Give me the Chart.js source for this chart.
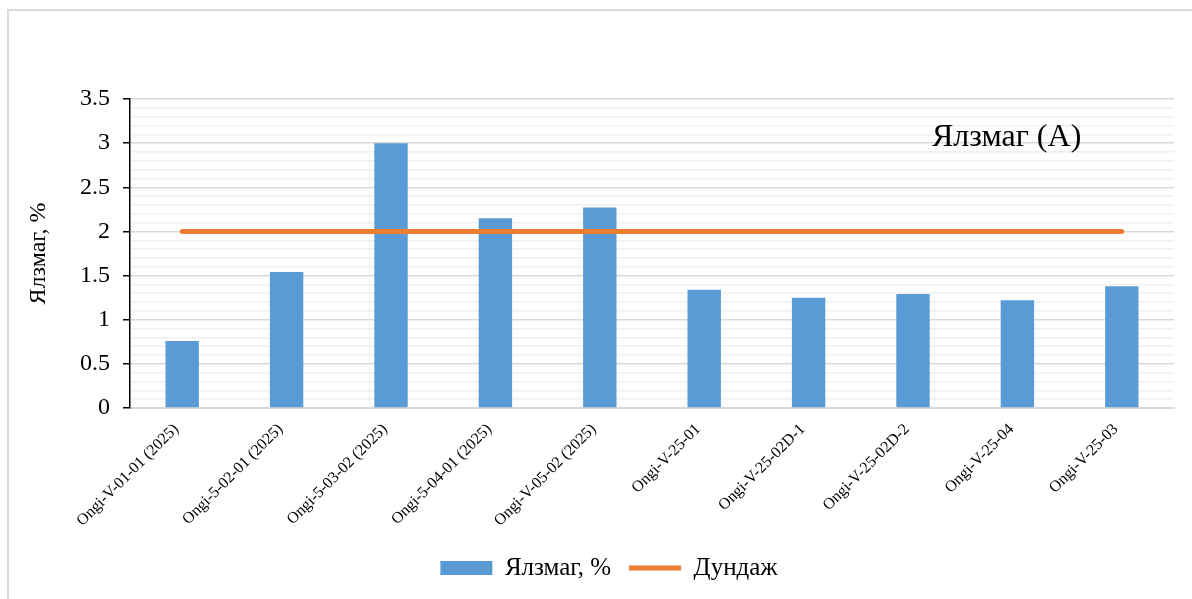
<!DOCTYPE html>
<html>
<head>
<meta charset="utf-8">
<script src="https://cdn.jsdelivr.net/npm/chart.js@4"></script>
<style>
  html, body { margin: 0; padding: 0; background: #fff; overflow: hidden; }
  #frame { position: absolute; left: 7px; top: 9px; width: 1300px; height: 700px;
           border-left: 2px solid #d9d9d9; border-top: 2px solid #d9d9d9; }
  #wrap { position: absolute; left: 0; top: 0; width: 1192px; height: 599px; }
</style>
</head>
<body>
<div id="frame"></div>
<div id="wrap"><canvas id="chart" width="1192" height="599"></canvas></div>
<script>
// samples and values
var categories = [
  "Ongi-V-01-01 (2025)", "Ongi-5-02-01 (2025)", "Ongi-5-03-02 (2025)",
  "Ongi-5-04-01 (2025)", "Ongi-V-05-02 (2025)", "Ongi-V-25-01",
  "Ongi-V-25-02D-1", "Ongi-V-25-02D-2", "Ongi-V-25-04", "Ongi-V-25-03"
];
var yalzmag = [0.76, 1.54, 3.0, 2.15, 2.27, 1.34, 1.25, 1.29, 1.22, 1.38];
var dundaj = [2, 2, 2, 2, 2, 2, 2, 2, 2, 2];
var yTicks = [0, 0.5, 1, 1.5, 2, 2.5, 3, 3.5];

var serif = "'Liberation Serif', 'Times New Roman', serif";

function isMajor(v){
  return yTicks.some(function(t){ return Math.abs(t - v) < 1e-6; });
}

// text box inside the plot
var labelBox = {
  id: "labelBox",
  afterDraw: function(chart){
    var ctx = chart.ctx, a = chart.chartArea;
    ctx.save();
    ctx.font = "32px " + serif;
    ctx.fillStyle = "#000";
    ctx.textBaseline = "middle";
    ctx.textAlign = "left";
    ctx.fillText("Ялзмаг (А)", a.left + 802, a.top + 39);
    ctx.restore();
  }
};

// legend sits a bit right of centre in the original
var legendShift = {
  id: "legendShift",
  afterLayout: function(chart){
    chart.legend.left += 22;
    chart.legend.right += 22;
  }
};

new Chart(document.getElementById("chart"), {
  type: "bar",
  data: {
    labels: categories,
    datasets: [
      {
        label: "Ялзмаг, %",
        data: yalzmag,
        backgroundColor: "#5b9bd5",
        borderWidth: 0,
        barPercentage: 0.32,
        categoryPercentage: 1,
        pointStyle: "rect",
        order: 2
      },
      {
        type: "line",
        label: "Дундаж",
        data: dundaj,
        borderColor: "#ed7d31",
        backgroundColor: "#ed7d31",
        borderWidth: 5,
        borderCapStyle: "round",
        pointRadius: 0,
        pointHoverRadius: 0,
        pointStyle: "line",
        order: 1
      }
    ]
  },
  options: {
    responsive: false,
    animation: false,
    layout: { padding: { top: 99, right: 18, bottom: 8.5, left: 0 } },
    plugins: {
      tooltip: { enabled: false },
      legend: {
        position: "bottom",
        labels: {
          usePointStyle: true,
          pointStyleWidth: 52,
          boxWidth: 52,
          boxHeight: 14,
          padding: 18,
          color: "#000",
          font: { family: serif, size: 25 },
          sort: function(a, b){ return a.datasetIndex - b.datasetIndex; }
        }
      }
    },
    scales: {
      x: {
        afterFit: function(s){ s.height = 129.5; },
        grid: { display: false },
        border: { display: true, color: "#d9d9d9", width: 2 },
        ticks: {
          color: "#000",
          font: { family: serif, size: 16 },
          minRotation: 45,
          maxRotation: 45,
          padding: 4,
          labelOffset: -6,
          autoSkip: false
        }
      },
      y: {
        min: 0,
        max: 3.5,
        afterFit: function(s){ s.width = 130; },
        afterBuildTicks: function(s){
          var t = [];
          for (var i = 0; i <= 35; i++) t.push({ value: i / 10 });
          s.ticks = t;
        },
        border: { display: true, color: "#000", width: 1.5 },
        grid: {
          color: function(c){ return isMajor(c.tick.value) ? "#d9d9d9" : "#f0f0f0"; },
          lineWidth: 1.5,
          tickColor: function(c){ return isMajor(c.tick.value) ? "#000" : "rgba(0,0,0,0)"; },
          tickLength: 7
        },
        ticks: {
          autoSkip: false,
          color: "#000",
          padding: 13,
          font: { family: serif, size: 24 },
          callback: function(v){ return isMajor(v) ? String(Math.round(v * 10) / 10) : ""; }
        },
        title: {
          display: true,
          text: "Ялзмаг, %",
          color: "#000",
          padding: { top: 24, bottom: 0 },
          font: { family: serif, size: 24 }
        }
      }
    }
  },
  plugins: [labelBox, legendShift]
});
</script>
</body>
</html>
